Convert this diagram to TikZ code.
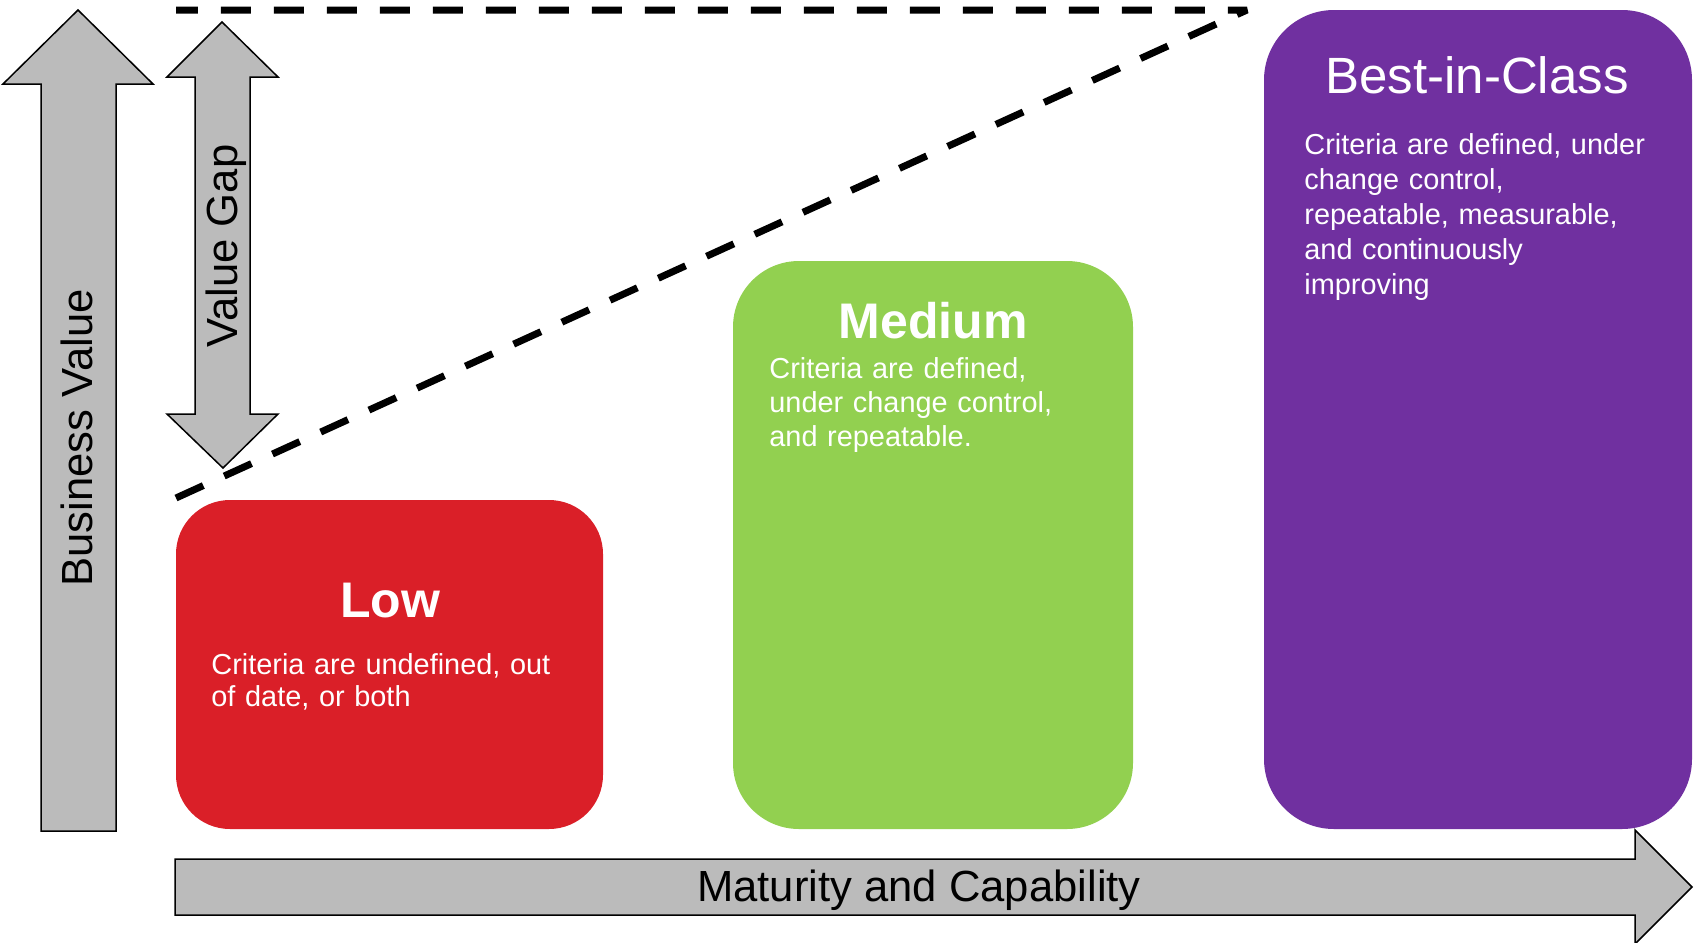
\documentclass[tikz,border=0pt]{standalone}
\usepackage{fontspec}
\setmainfont{Liberation Sans}
\definecolor{lowred}{HTML}{DA1F28}
\definecolor{medgreen}{HTML}{92D050}
\definecolor{bestpurple}{HTML}{7030A0}
\definecolor{arrowgray}{HTML}{BBBBBB}
\begin{document}
\begin{tikzpicture}[x=0.5pt,y=-0.5pt,
  bigarrow/.style={fill=arrowgray, draw=black, line width=0.75pt, line join=miter},
  axislabel/.style={font=\fontsize{21.8pt}{26pt}\selectfont, text=black, inner sep=0pt, anchor=base},
  levelbox/.style={rectangle, inner sep=0pt, draw=none},
  boxtitle/.style={text=white, inner sep=0pt, anchor=base},
  boxbody/.style={text=white, inner sep=0pt, anchor=base west, align=left, text width=215pt},
  dashline/.style={line width=3.5pt, dash pattern=on 15pt off 11.5pt, line join=bevel, line cap=butt}]

\useasboundingbox (0,0) rectangle (1694,943);
\fill[white] (0,0) rectangle (1694,943);

% maturity levels
\node[levelbox, fill=lowred, rounded corners=27pt, minimum width=213.5pt, minimum height=164.5pt] (low) at (389.5,664.5) {};
\node[levelbox, fill=medgreen, rounded corners=33pt, minimum width=200pt, minimum height=284pt] (medium) at (933,545) {};
\node[levelbox, fill=bestpurple, rounded corners=35pt, minimum width=214pt, minimum height=409.5pt] (best) at (1478,419.5) {};

% business value axis
\draw[bigarrow] (78,10) -- (153,84) -- (116,84) -- (116,831) -- (41,831) -- (41,84) -- (3,84) -- cycle;
% value gap double arrow
\draw[bigarrow] (222,22) -- (278,77) -- (250,77) -- (250,414) -- (278,414) -- (223,468)
  -- (167,414) -- (195,414) -- (195,77) -- (167,77) -- cycle;
% maturity axis
\draw[bigarrow] (175,859) -- (1635,859) -- (1635,830) -- (1692,887) -- (1635,944)
  -- (1635,915) -- (175,915) -- cycle;

% value ceiling and current value lines
\coordinate (gapstart) at (176,498);
\coordinate (ceiling) at (1247,10);
\coordinate (topstart) at (176,10);
\draw[dashline] (gapstart) -- (ceiling) -- (topstart);

% axis labels
\node[axislabel, rotate=90] (bvlabel) at (92,438) {Business Value};
\node[axislabel, rotate=90] (vglabel) at (237,246) {Value Gap};
\node[axislabel] (mclabel) at (919,901) {Maturity and Capability};

% level titles
\node[boxtitle, font=\fontsize{25pt}{30pt}\selectfont\bfseries] (lowtitle) at (390,617) {Low};
\node[boxtitle, font=\fontsize{25pt}{30pt}\selectfont\bfseries] (medtitle) at (933,338) {Medium};
\node[boxtitle, font=\fontsize{25.5pt}{30pt}\selectfont] (besttitle) at (1477,93) {Best-in-Class};

% level descriptions
\node[boxbody, font=\fontsize{14.45pt}{16pt}\selectfont] (lowtext) at (211,674)
  {Criteria are undefined, out\\of date, or both};
\node[boxbody, font=\fontsize{14.45pt}{17pt}\selectfont] (medtext) at (769,378)
  {Criteria are defined,\\under change control,\\and repeatable.};
\node[boxbody, font=\fontsize{14.45pt}{17.5pt}\selectfont] (besttext) at (1304,154)
  {Criteria are defined, under\\change control,\\repeatable, measurable,\\and continuously\\improving};
\end{tikzpicture}
\end{document}
